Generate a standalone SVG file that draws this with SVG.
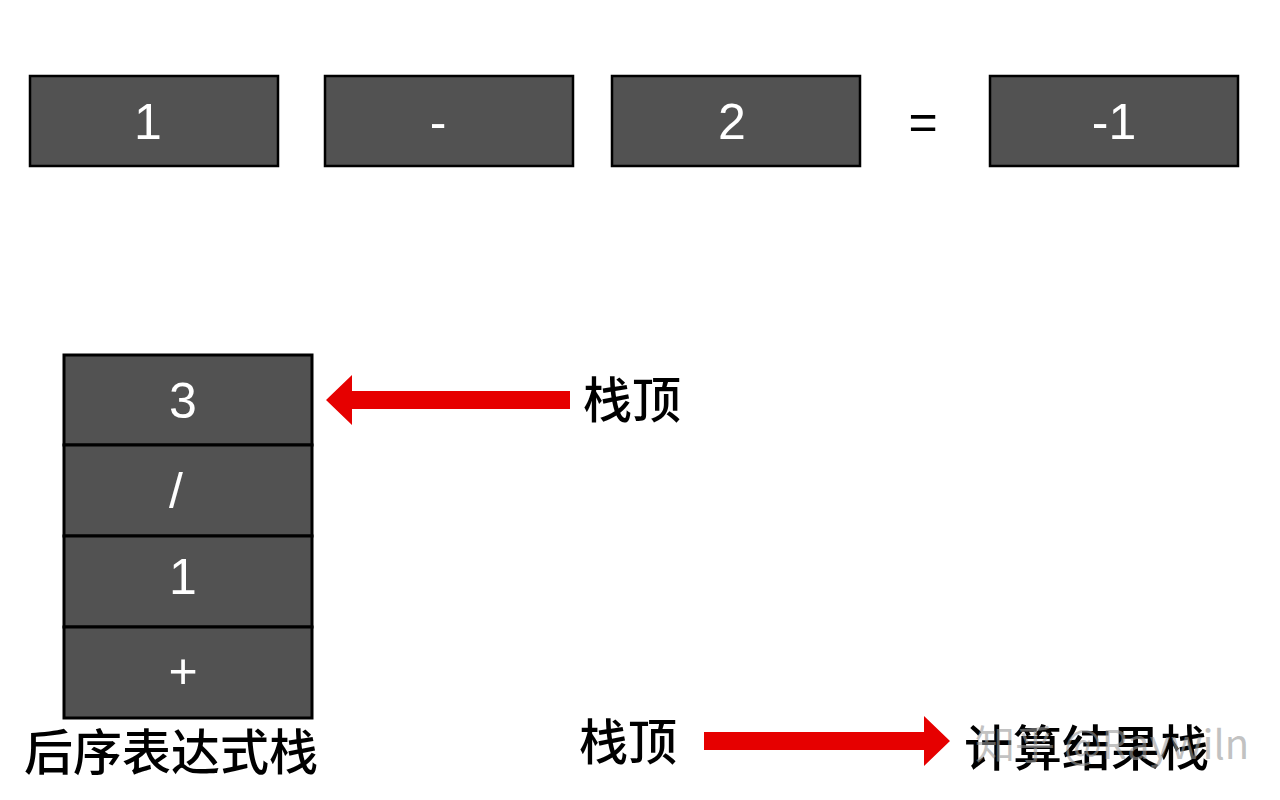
<svg xmlns="http://www.w3.org/2000/svg" width="1280" height="800" viewBox="0 0 1280 800">
<style>
.box{fill:#525252;stroke:#000;stroke-width:2.5}
.num{font-family:"Liberation Sans",Arial,sans-serif;font-size:50px;fill:#fff;text-anchor:middle}
.cn{font-family:"Noto Sans CJK SC","Liberation Sans",sans-serif;font-size:49px;font-weight:500;fill:#000}
.arrow{fill:#e60000}
.wm{font-family:"Noto Sans CJK SC","Liberation Sans",sans-serif;font-size:40px;fill:#999;fill-opacity:0.6}
</style>
<rect width="1280" height="800" fill="#fff"/>
<g id="n1"><rect class="box" x="30" y="76" width="248" height="90"/><text class="num" x="148" y="139">1</text></g>
<g id="n2"><rect class="box" x="325" y="76" width="248" height="90"/><text class="num" x="438" y="139">-</text></g>
<g id="n3"><rect class="box" x="612" y="76" width="248" height="90"/><text class="num" x="732" y="139">2</text></g>
<g id="eq"><text class="num" x="923" y="139" style="fill:#000">=</text></g>
<g id="n4"><rect class="box" x="990" y="76" width="248" height="90"/><text class="num" x="1114" y="139">-1</text></g>
<g id="stack">
<rect class="box" x="64" y="355" width="248" height="90" style="stroke-width:3"/><text class="num" x="183" y="418">3</text>
<rect class="box" x="64" y="445" width="248" height="91" style="stroke-width:3"/><text class="num" x="176" y="508">/</text>
<rect class="box" x="64" y="536" width="248" height="91" style="stroke-width:3"/><text class="num" x="183" y="594">1</text>
<rect class="box" x="64" y="627" width="248" height="91" style="stroke-width:3"/><text class="num" x="183" y="688">+</text>
</g>
<g id="labels">
<text class="cn" x="583" y="418">栈顶</text>
<text class="cn" x="579" y="760">栈顶</text>
<text class="cn" x="24" y="770">后序表达式栈</text>
<text class="cn" x="964" y="766">计算结果栈</text>
</g>
<g id="connectors">
<polygon class="arrow" points="326,400 352,375 352,391 570,391 570,409 352,409 352,425"/>
<polygon class="arrow" points="704,732 924,732 924,716 950,741 924,766 924,750 704,750"/>
</g>
<text class="wm" x="975" y="759">知乎 @Raywiln</text>
</svg>
